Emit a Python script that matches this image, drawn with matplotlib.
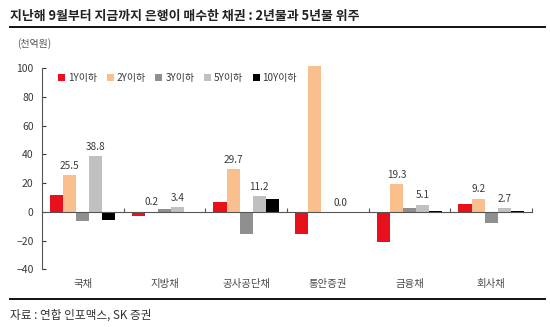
import matplotlib
matplotlib.use("Agg")
import matplotlib.pyplot as plt
import numpy as np
from matplotlib.patches import Patch
from matplotlib.lines import Line2D
from matplotlib.transforms import blended_transform_factory

plt.rcParams["font.family"] = ["Noto Sans CJK KR", "DejaVu Sans"]

categories = ["국채", "지방채", "공사공단채", "통안증권", "금융채", "회사채"]
series_names = ["1Y이하", "2Y이하", "3Y이하", "5Y이하", "10Y이하"]
y1 = [12.0, -2.6, 6.7, -15.2, -21.3, 5.6]
y2 = [25.5, 0.2, 29.7, 101.5, 19.3, 9.2]
y3 = [-6.6, 2.1, -15.2, 0.0, 2.6, -8.0]
y5 = [38.8, 3.4, 11.2, 0.0, 5.1, 2.7]
y10 = [-5.4, -1.0, 9.3, 0.0, 0.5, 0.5]
# which bars carry a value label (2Y and 5Y)
labels_2y = ["25.5", "0.2", "29.7", None, "19.3", "9.2"]
labels_5y = ["38.8", "3.4", "11.2", "0.0", "5.1", "2.7"]

colors = ["#e8101a", "#f9c08e", "#8f8f8f", "#c0c0c0", "#000000"]
text_color = "#3a3a3a"

fig = plt.figure(figsize=(5.5, 3.27), dpi=100)
ax = fig.add_axes([42 / 550, 1 - 269.3 / 327, 490 / 550, 201 / 327])

x = np.arange(len(categories))
width = 0.16
all_series = [y1, y2, y3, y5, y10]
bars = []
for i, (vals, c) in enumerate(zip(all_series, colors)):
    b = ax.bar(x + (i - 2) * width, vals, width, color=c, linewidth=0,
               clip_on=False, zorder=2)
    bars.append(b)

for labs, b in [(labels_2y, bars[1]), (labels_5y, bars[3])]:
    for lab, rect in zip(labs, b):
        if lab is None:
            continue
        top = max(rect.get_height(), 0)
        ax.annotate(lab, (rect.get_x() + rect.get_width() / 2, top),
                    xytext=(0, 3), textcoords="offset points",
                    ha="center", va="bottom", fontsize=7.2, color=text_color)

ax.set_xlim(-0.5, len(categories) - 0.5)
ax.set_ylim(-40, 100)
ax.set_yticks(np.arange(-40, 101, 20))
ax.tick_params(axis="y", direction="in", length=3, labelsize=7.5,
               colors=text_color, width=0.8, pad=6)

for s in ["top", "right"]:
    ax.spines[s].set_visible(False)
ax.spines["left"].set_color("#555555")
ax.spines["bottom"].set_position(("data", 0))
ax.spines["bottom"].set_color("#555555")
ax.spines["bottom"].set_zorder(3)
ax.set_xticks(np.arange(0.5, len(categories), 1.0))
ax.set_xticklabels([])
ax.tick_params(axis="x", direction="in", length=3, width=0.8, colors="#555555")

trans = blended_transform_factory(ax.transData, ax.transAxes)
for xi, cat in zip(x, categories):
    ax.text(xi, -0.075, cat, transform=trans, ha="center", va="center",
            fontsize=7.5, color="#4a4a4a")

handles = [Patch(facecolor=c, edgecolor="none") for c in colors]
ax.legend(handles, series_names, loc="upper left", bbox_to_anchor=(0.025, 0.995),
          ncol=5, frameon=False, fontsize=7.2, handlelength=0.7, handleheight=0.7,
          handletextpad=0.3, columnspacing=0.95, labelcolor=text_color,
          borderaxespad=0)

fig.text(10 / 550, 1 - 16 / 327, "지난해 9월부터 지금까지 은행이 매수한 채권 : 2년물과 5년물 위주",
         fontsize=9.3, fontweight="bold", color="#222222", va="center", ha="left")
fig.add_artist(Line2D([10 / 550, 545 / 550], [1 - 27 / 327] * 2, color="#111111", lw=1.4))
fig.text(17 / 550, 1 - 44 / 327, "(천억원)", fontsize=7.2, color="#555555",
         va="center", ha="left")
fig.add_artist(Line2D([10 / 550, 545 / 550], [1 - 299 / 327] * 2, color="#111111", lw=1.4))
fig.text(10 / 550, 1 - 315 / 327, "자료 : 연합 인포맥스, SK 증권", fontsize=8.4,
         color="#333333", va="center", ha="left")

fig.savefig("out.png", dpi=100)
